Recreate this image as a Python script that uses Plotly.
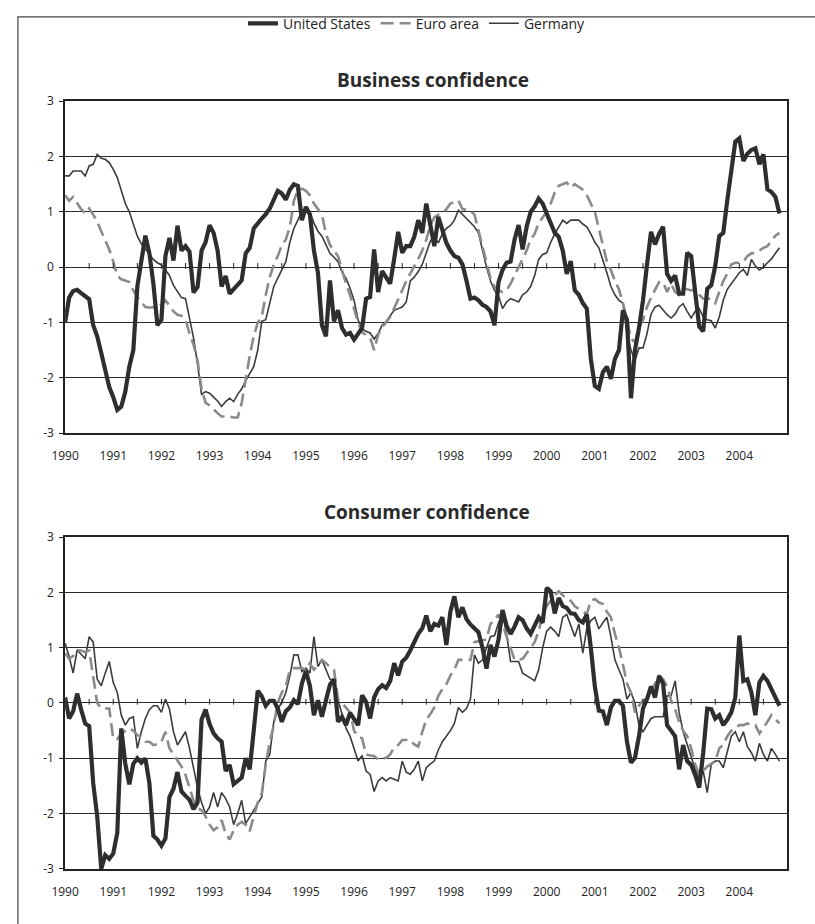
import plotly.graph_objects as go

# ---------------- data (monthly, Jan 1990 - Nov 2004) ----------------
bus_us = [
    -1.0, -0.55, -0.43, -0.41, -0.47, -0.53, -0.58, -1.05, -1.25, -1.55, -1.85, -2.17,
    -2.35, -2.58, -2.52, -2.25, -1.8, -1.5, -0.35, 0.1, 0.57, 0.25, -0.3, -1.05,
    -0.95, 0.2, 0.53, 0.12, 0.75, 0.3, 0.38, 0.28, -0.46, -0.36, 0.3, 0.45,
    0.76, 0.62, 0.3, -0.35, -0.16, -0.48, -0.4, -0.3, -0.24, 0.25, 0.35, 0.7,
    0.8, 0.88, 0.96, 1.06, 1.22, 1.38, 1.33, 1.22, 1.4, 1.5, 1.47, 0.85,
    1.09, 0.95, 0.3, -0.1, -1.05, -1.25, -0.24, -0.98, -0.78, -1.1, -1.22, -1.19,
    -1.31, -1.22, -1.1, -0.57, -0.54, 0.32, -0.45, -0.07, -0.18, -0.3, 0.15, 0.64,
    0.26, 0.38, 0.38, 0.55, 0.85, 0.62, 1.15, 0.75, 0.38, 0.91, 0.67, 0.44,
    0.3, 0.2, 0.17, 0.05, -0.24, -0.57, -0.55, -0.6, -0.68, -0.72, -0.8, -1.05,
    -0.27, -0.05, 0.08, 0.1, 0.5, 0.76, 0.32, 0.73, 1.0, 1.1, 1.24, 1.15,
    0.97, 0.78, 0.62, 0.55, 0.3, -0.12, 0.11, -0.42, -0.5, -0.65, -0.75, -1.66,
    -2.15, -2.2, -1.9, -1.8, -2.02, -1.66, -1.5, -0.78, -0.95, -2.37, -1.5, -1.1,
    -0.6, 0.05, 0.64, 0.41, 0.6, 0.73, -0.12, -0.25, -0.15, -0.48, -0.48, 0.26,
    0.2, -0.45, -1.07, -1.16, -0.39, -0.33, 0.02, 0.56, 0.62, 1.21, 1.8, 2.27,
    2.33, 1.92, 2.05, 2.12, 2.15, 1.86, 2.04, 1.41, 1.36, 1.27, 0.97,
]
bus_ea = [
    1.3, 1.2, 1.27, 1.15, 1.05, 0.97, 1.06, 0.95, 0.82, 0.65, 0.5, 0.32,
    0.1, -0.15, -0.22, -0.25, -0.27, -0.42, -0.55, -0.63, -0.72, -0.73, -0.72, -0.72,
    -0.68, -0.6, -0.7, -0.8, -0.86, -0.88, -0.95, -1.2, -1.4, -1.69, -2.2, -2.45,
    -2.5, -2.58, -2.64, -2.7, -2.7, -2.7, -2.72, -2.72, -2.46, -2.0, -1.6, -1.25,
    -1.0, -0.9, -0.5, -0.18, 0.05, 0.2, 0.4, 0.5, 0.73, 1.2, 1.4, 1.42,
    1.38, 1.3, 1.15, 1.05, 0.95, 0.6, 0.4, 0.3, 0.2, -0.05, -0.3, -0.5,
    -0.75, -1.0, -1.18, -1.22, -1.27, -1.5, -1.22, -1.08, -1.0, -0.9, -0.75, -0.6,
    -0.42, -0.25, -0.12, 0.0, 0.15, 0.3, 0.5, 0.75, 0.9, 0.95, 0.97, 1.05,
    1.15, 1.18, 1.21, 1.05, 1.03, 1.02, 0.95, 0.65, 0.4, 0.05, -0.2, -0.35,
    -0.42, -0.45, -0.42, -0.3, -0.15, 0.0, 0.15, 0.3, 0.5, 0.6, 0.8, 0.9,
    1.0, 1.15, 1.35, 1.47, 1.5, 1.53, 1.44, 1.5, 1.45, 1.4, 1.3, 1.15,
    1.0, 0.7, 0.4, 0.1, -0.05, -0.25, -0.4, -0.65, -0.95, -1.3, -1.35, -1.1,
    -0.95, -0.72, -0.55, -0.4, -0.27, -0.27, -0.45, -0.3, -0.45, -0.5, -0.39, -0.4,
    -0.42, -0.4, -0.5, -0.57, -0.57, -0.57, -0.65, -0.45, -0.25, -0.12, 0.05, 0.08,
    0.08, 0.1, 0.2, 0.25, 0.26, 0.3, 0.35, 0.38, 0.48, 0.57, 0.62,
]
bus_de = [
    1.65, 1.65, 1.74, 1.74, 1.74, 1.65, 1.83, 1.86, 2.04, 1.97, 1.95, 1.89,
    1.77, 1.62, 1.38, 1.15, 1.0, 0.78, 0.56, 0.42, 0.32, 0.23, 0.14, 0.08,
    0.04, -0.05, -0.15, -0.33, -0.45, -0.55, -0.57, -0.92, -1.28, -1.75, -2.3, -2.25,
    -2.28, -2.35, -2.42, -2.52, -2.43, -2.37, -2.43, -2.3, -2.2, -2.05, -1.93, -1.8,
    -1.5, -0.98, -0.95, -0.65, -0.35, -0.2, -0.06, 0.1, 0.45, 0.7, 0.85, 1.02,
    1.06, 1.0, 0.8, 0.65, 0.56, 0.4, 0.25, 0.18, 0.1, -0.09, -0.2, -0.38,
    -0.6, -0.95, -1.12, -1.16, -1.19, -1.3, -1.2, -1.05, -0.98, -0.88, -0.78, -0.75,
    -0.72, -0.63, -0.25, -0.18, -0.08, 0.05, 0.25, 0.47, 0.56, 0.44, 0.6, 0.7,
    0.75, 0.85, 1.03, 0.95, 0.88, 0.8, 0.73, 0.62, 0.3, 0.0, -0.25, -0.42,
    -0.52, -0.75, -0.63, -0.57, -0.6, -0.63, -0.5, -0.45, -0.35, -0.15, 0.14, 0.23,
    0.26, 0.45, 0.6, 0.73, 0.85, 0.79, 0.85, 0.85, 0.85, 0.78, 0.73, 0.6,
    0.45, 0.35, 0.14, -0.1, -0.35, -0.5, -0.6, -0.65, -1.2, -1.5, -1.69, -1.46,
    -1.46, -1.2, -0.85, -0.72, -0.69, -0.78, -0.86, -0.92, -0.85, -0.72, -0.66, -0.8,
    -0.92, -0.8, -0.75, -0.9, -0.95, -0.97, -1.1, -0.9, -0.6, -0.4, -0.3, -0.2,
    -0.1, -0.04, -0.15, 0.14, 0.02, -0.05, 0.0, 0.08, 0.15, 0.25, 0.35,
]
con_us = [
    0.1, -0.28, -0.15, 0.17, -0.12, -0.37, -0.42, -1.45, -2.05, -3.0, -2.75, -2.82,
    -2.72, -2.35, -0.46, -1.1, -1.47, -1.1, -1.0, -1.08, -1.0, -1.45, -2.4, -2.47,
    -2.58, -2.45, -1.7, -1.55, -1.25, -1.6, -1.68, -1.75, -1.92, -1.8, -0.3, -0.12,
    -0.38, -0.55, -0.64, -0.7, -1.23, -1.12, -1.47, -1.42, -1.35, -1.0, -1.2, -0.5,
    0.22, 0.12, -0.05, 0.04, 0.04, -0.1, -0.34, -0.15, -0.08, 0.05, -0.02, 0.35,
    0.58, 0.31, -0.22, 0.05, -0.25, 0.05, 0.33, 0.43, -0.34, -0.25, -0.4, -0.18,
    -0.3, -0.4, 0.14, 0.02, -0.28, 0.1, 0.25, 0.32, 0.27, 0.4, 0.72, 0.5,
    0.75, 0.82, 0.95, 1.1, 1.25, 1.35, 1.58, 1.3, 1.43, 1.4, 1.55, 1.05,
    1.65, 1.93, 1.55, 1.73, 1.52, 1.42, 1.35, 1.28, 1.0, 0.62, 1.05, 0.84,
    1.15, 1.68, 1.4, 1.25, 1.38, 1.55, 1.5, 1.35, 1.25, 1.4, 1.55, 1.45,
    2.08, 2.02, 1.62, 1.9, 1.75, 1.72, 1.62, 1.61, 1.5, 1.46, 1.6, 1.0,
    0.3, -0.14, -0.15, -0.4, -0.08, 0.04, 0.04, -0.05, -0.7, -1.08, -0.99, -0.6,
    -0.1, 0.07, 0.3, 0.1, 0.49, 0.35, -0.4, -0.5, -0.6, -1.2, -0.76, -1.05,
    -1.12, -1.3, -1.53, -0.9, -0.1, -0.11, -0.28, -0.22, -0.4, -0.3, -0.17, 0.1,
    1.22, 0.4, 0.43, 0.19, -0.22, 0.37, 0.49, 0.4, 0.25, 0.13, -0.05,
]
con_ea = [
    0.9, 0.8, 0.85, 0.95, 0.95, 0.92, 0.95, 0.5, 0.0, -0.1, -0.1, -0.1,
    -0.65, -0.65, -0.55, -0.5, -0.46, -0.5, -0.58, -0.62, -0.7, -0.7, -0.76, -0.75,
    -0.7, -0.52, -0.82, -0.93, -1.05, -1.15, -1.3, -1.53, -1.76, -1.9, -1.94, -2.05,
    -2.2, -2.3, -2.25, -2.12, -2.36, -2.47, -2.3, -2.2, -2.15, -2.2, -2.32, -2.05,
    -1.8, -1.64, -1.11, -0.7, -0.4, 0.01, 0.19, 0.31, 0.6, 0.63, 0.63, 0.63,
    0.6, 0.72, 0.6, 0.68, 0.78, 0.72, 0.65, 0.6, 0.07, 0.0, -0.08, -0.17,
    -0.5, -0.61, -0.64, -0.93, -0.95, -0.96, -1.02, -1.0, -0.99, -0.93, -0.8, -0.76,
    -0.67, -0.67, -0.67, -0.75, -0.79, -0.52, -0.3, -0.2, -0.08, 0.13, 0.25, 0.34,
    0.5, 0.6, 0.78, 0.78, 0.78, 0.78, 1.1, 1.12, 1.13, 1.15, 1.43, 1.5,
    1.6, 1.43, 1.2, 1.0, 0.78, 0.78, 0.8, 0.9, 1.0, 1.1, 1.3, 1.61,
    1.75, 1.85, 1.95, 2.02, 1.95, 1.88, 1.85, 1.75, 1.7, 1.65, 1.61, 1.85,
    1.88, 1.82, 1.79, 1.65, 1.55, 1.25, 1.0, 0.7, 0.35, 0.19, -0.17, -0.05,
    0.05, 0.07, 0.2, 0.35, 0.49, 0.43, 0.3, 0.05, -0.11, -0.34, -0.5, -0.6,
    -0.82, -1.11, -1.29, -1.23, -1.15, -1.1, -1.05, -0.82, -0.76, -0.6, -0.5, -0.46,
    -0.4, -0.4, -0.37, -0.4, -0.4, -0.55, -0.45, -0.34, -0.22, -0.3, -0.37,
]
con_de = [
    1.08, 0.84, 0.54, 0.96, 0.88, 0.8, 1.2, 1.1, 0.43, 0.31, 0.54, 0.75,
    0.37, 0.19, -0.22, -0.4, -0.28, -0.25, -0.82, -0.52, -0.28, -0.12, -0.05, -0.05,
    -0.17, 0.07, -0.11, -0.52, -0.76, -0.64, -0.52, -0.82, -1.17, -1.53, -1.8, -2.0,
    -1.88, -1.62, -1.88, -1.62, -1.73, -1.88, -2.2, -2.0, -1.76, -2.18, -2.06, -1.94,
    -1.82, -1.7, -1.05, -0.93, -0.34, -0.11, 0.01, 0.19, 0.49, 0.87, 0.87, 0.57,
    0.63, 0.54, 1.2, 0.66, 0.78, 0.6, 0.43, 0.4, 0.05, -0.2, -0.46, -0.6,
    -0.82, -1.05, -0.95, -1.23, -1.29, -1.6, -1.41, -1.35, -1.41, -1.35, -1.38, -1.41,
    -1.05, -1.25, -1.29, -1.2, -1.05, -1.41, -1.17, -1.1, -1.05, -0.85, -0.7, -0.6,
    -0.5, -0.37, -0.08, -0.17, -0.1, 0.07, 0.87, 0.72, 0.78, 1.0, 1.2, 1.22,
    1.45, 1.61, 1.25, 0.75, 0.75, 0.75, 0.54, 0.5, 0.45, 0.4, 0.6, 1.0,
    1.3, 1.37, 1.3, 1.2, 1.55, 1.6, 1.4, 1.2, 1.43, 0.9, 1.35, 1.49,
    1.55, 1.34, 1.45, 1.55, 1.2, 0.78, 0.6, 0.43, 0.07, 0.19, 0.0, -0.4,
    -0.52, -0.4, -0.28, -0.25, -0.25, -0.25, 0.13, 0.13, 0.4, -0.17, -0.52, -0.75,
    -0.99, -1.2, -1.35, -1.23, -1.62, -1.11, -1.05, -1.05, -1.17, -0.88, -0.6, -0.52,
    -0.7, -0.52, -0.79, -0.9, -1.05, -0.73, -0.93, -1.05, -0.82, -0.93, -1.05,
]
years = list(range(1990, 2005))
year_labels = [str(y) for y in years]
y_ticks = [3, 2, 1, 0, -1, -2, -3]
y_labels = ["3", "2", "1", "0", "-1", "-2", "-3"]
titles = ["Business confidence", "Consumer confidence"]
names = ["United States", "Euro area", "Germany"]

x = [1990 + i / 12 for i in range(len(bus_us))]

# ---------------- figure ----------------
W, H = 815, 924
FONT = "Open Sans, Noto Sans, sans-serif"
styles = {
    "United States": dict(color="#2e2e2e", width=4.2),
    "Euro area": dict(color="#8a8a8a", width=2.6, dash="13px,6px"),
    "Germany": dict(color="#3c3c3c", width=1.6),
}

fig = go.Figure()
panels = [
    ("x", "y", {"United States": bus_us, "Euro area": bus_ea, "Germany": bus_de}),
    ("x2", "y2", {"United States": con_us, "Euro area": con_ea, "Germany": con_de}),
]
rank = {"United States": 1, "Euro area": 2, "Germany": 3}
for pi, (xa, ya, series) in enumerate(panels):
    for nm in ["Germany", "Euro area", "United States"]:
        fig.add_trace(go.Scatter(
            x=x, y=series[nm], mode="lines", name=nm,
            line=styles[nm], xaxis=xa, yaxis=ya,
            showlegend=(pi == 0), legendrank=rank[nm], hoverinfo="skip",
        ))

def px_x(p):
    return p / W

def px_y(p):
    return 1 - p / H

# plot-area pixel boxes
L, R = 52, 787
boxes = [(94, 432), (538, 876)]

axis_common = dict(
    range=[1990, 2005], tickvals=years, ticktext=year_labels,
    showgrid=False, zeroline=False, showline=True, mirror=True,
    linecolor="#222222", linewidth=1.6, ticks="",
    tickfont=dict(family=FONT, size=12, color="#222222"),
    ticklabelstandoff=11,
)
yaxis_common = dict(
    range=[-3, 3], tickvals=y_ticks, ticktext=y_labels,
    showgrid=True, gridcolor="#2a2a2a", gridwidth=1.1, zeroline=False,
    showline=True, mirror=True, linecolor="#222222", linewidth=1.6,
    ticks="outside", ticklen=4, tickcolor="#222222", tickwidth=1,
    tickfont=dict(family=FONT, size=12, color="#222222"),
    ticklabelstandoff=3,
)

fig.update_layout(
    xaxis=dict(domain=[px_x(L), px_x(R)], anchor="y", **axis_common),
    yaxis=dict(domain=[px_y(boxes[0][1]), px_y(boxes[0][0])], anchor="x", **yaxis_common),
    xaxis2=dict(domain=[px_x(L), px_x(R)], anchor="y2", **axis_common),
    yaxis2=dict(domain=[px_y(boxes[1][1]), px_y(boxes[1][0])], anchor="x2", **yaxis_common),
)

# half-year tick marks drawn on the zero line (category-axis style)
shapes = []
for xr, yr in [("x", "y"), ("x2", "y2")]:
    for k in range(1, 30):
        hx = 1990 + k * 0.5
        shapes.append(dict(type="line", xref=xr, yref=yr, x0=hx, x1=hx,
                           y0=-0.03, y1=0.075, line=dict(color="#222222", width=1)))
# outer frame
shapes.append(dict(type="rect", xref="paper", yref="paper",
                   x0=px_x(4), x1=1.01, y0=-0.01, y1=px_y(8),
                   line=dict(color="#444444", width=1.2), fillcolor="rgba(0,0,0,0)"))

annotations = [
    dict(text="<b>%s</b>" % titles[0], x=px_x(426), y=px_y(72), xref="paper", yref="paper",
         showarrow=False, xanchor="center", yanchor="middle",
         font=dict(family=FONT, size=19, color="#2a2a2a")),
    dict(text="<b>%s</b>" % titles[1], x=px_x(420), y=px_y(512), xref="paper", yref="paper",
         showarrow=False, xanchor="center", yanchor="middle",
         font=dict(family=FONT, size=19, color="#2a2a2a")),
]

fig.update_layout(
    autosize=True,
    margin=dict(l=0, r=0, t=0, b=0),
    paper_bgcolor="white", plot_bgcolor="white",
    shapes=shapes, annotations=annotations,
    showlegend=True,
    legend=dict(orientation="h", x=px_x(410), y=px_y(15), xanchor="center", yanchor="middle",
                font=dict(family=FONT, size=14, color="#222222"),
                itemwidth=30, tracegroupgap=0, bgcolor="rgba(0,0,0,0)"),
    font=dict(family=FONT, color="#222222"),
)

fig.write_html(
    "out.html",
    config={"displayModeBar": False, "responsive": True},
    default_width="100vw",
    default_height="100vh",
    post_script=(
        "document.documentElement.style.margin='0';"
        "document.body.style.margin='0';document.body.style.overflow='hidden';"
        "Plotly.Plots.resize(document.getElementById('{plot_id}'));"
    ),
)
